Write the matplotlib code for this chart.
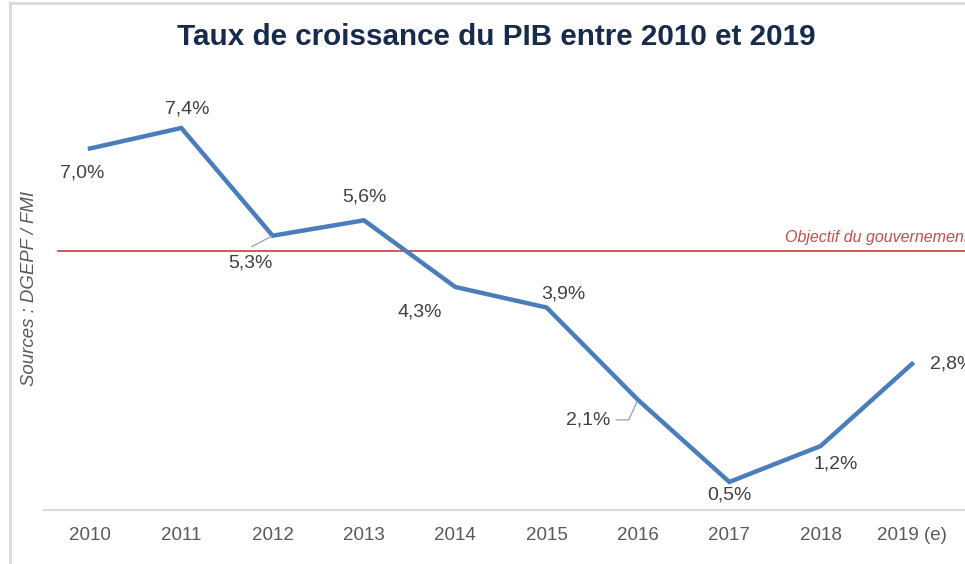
import matplotlib
matplotlib.use("Agg")
import matplotlib.pyplot as plt
from matplotlib.lines import Line2D

plt.rcParams['font.family'] = ['Liberation Sans', 'DejaVu Sans']

# data
years = ['2010', '2011', '2012', '2013', '2014', '2015', '2016', '2017', '2018', '2019 (e)']
growth = [7.0, 7.4, 5.3, 5.6, 4.3, 3.9, 2.1, 0.5, 1.2, 2.8]
labels = ['7,0%', '7,4%', '5,3%', '5,6%', '4,3%', '3,9%', '2,1%', '0,5%', '1,2%', '2,8%']
objective = 5.0

# label offsets in pixels (dx, dy) and horizontal alignment
offsets = [(-8, -25), (6, 19), (-22, -27), (0, 23), (-36, -25),
           (17, 14), (-50, -20), (0, -13), (15, -18), (18, 0)]
aligns = ['center'] * 9 + ['left']

W, H = 965, 564
fig = plt.figure(figsize=(W / 100, H / 100), dpi=100)
fig.patch.set_facecolor('white')

# axes: x from px 44 to 965, y 0 at px ~508, axis line at px 510
ax = fig.add_axes([44.3 / W, 1 - 510 / H, 1 - 44.3 / W, 412.8 / H])
ax.set_xlim(-0.5, (965 - 90) / 91.33)
ax.set_ylim(-0.047, 8)
ax.patch.set_alpha(0)

x = range(len(years))
ax.plot(x, growth, color='#4A7EBB', lw=3.2, solid_joinstyle='miter', zorder=3)

# objective line
ax.plot([-0.35, 9.6], [objective, objective], color='#C0504D', lw=1.3,
        clip_on=False, zorder=2)
ax.text(7.61, objective + 0.18, 'Objectif du gouvernement', color='#C0504D',
        style='italic', fontsize=11.5, ha='left', va='baseline', clip_on=False)

for i, (v, lab) in enumerate(zip(growth, labels)):
    ax.annotate(lab, xy=(i, v), xytext=offsets[i], textcoords='offset pixels',
                ha=aligns[i], va='center', fontsize=14, color='#404040', zorder=4)

# leader lines
ax.annotate('', xy=(2, growth[2]), xytext=(-21, -11), textcoords='offset pixels',
            arrowprops=dict(arrowstyle='-', color='#A6A6A6', lw=1,
                            shrinkA=0, shrinkB=1))
ax.annotate('', xy=(6, growth[6]), xytext=(-22, -20), textcoords='offset pixels',
            arrowprops=dict(arrowstyle='-', color='#A6A6A6', lw=1,
                            shrinkA=0, shrinkB=2,
                            connectionstyle='angle,angleA=0,angleB=65,rad=0'))

for s in ['top', 'right', 'left']:
    ax.spines[s].set_visible(False)
ax.spines['bottom'].set_color('#D9D9D9')
ax.spines['bottom'].set_linewidth(1.5)
ax.set_yticks([])
ax.set_xticks(list(x))
ax.set_xticklabels(years, fontsize=13.5, color='#595959')
ax.tick_params(axis='x', length=0, pad=12)

fig.text(496.5 / W, 1 - 37 / H, 'Taux de croissance du PIB entre 2010 et 2019',
         ha='center', va='center', fontsize=21.3, fontweight='bold', color='#172B4D')
fig.text(30 / W, 1 - 288 / H, 'Sources : DGEPF / FMI', rotation=90,
         ha='center', va='center', fontsize=13.4, style='italic', color='#595959')

# frame around the chart
fig.add_artist(Line2D([9.5 / W, 9.5 / W], [0, 1 - 3 / H], color='#D9D9D9', lw=2))
fig.add_artist(Line2D([9.5 / W, 1], [1 - 3 / H, 1 - 3 / H], color='#D9D9D9', lw=2))

fig.savefig('out.png', dpi=100)
